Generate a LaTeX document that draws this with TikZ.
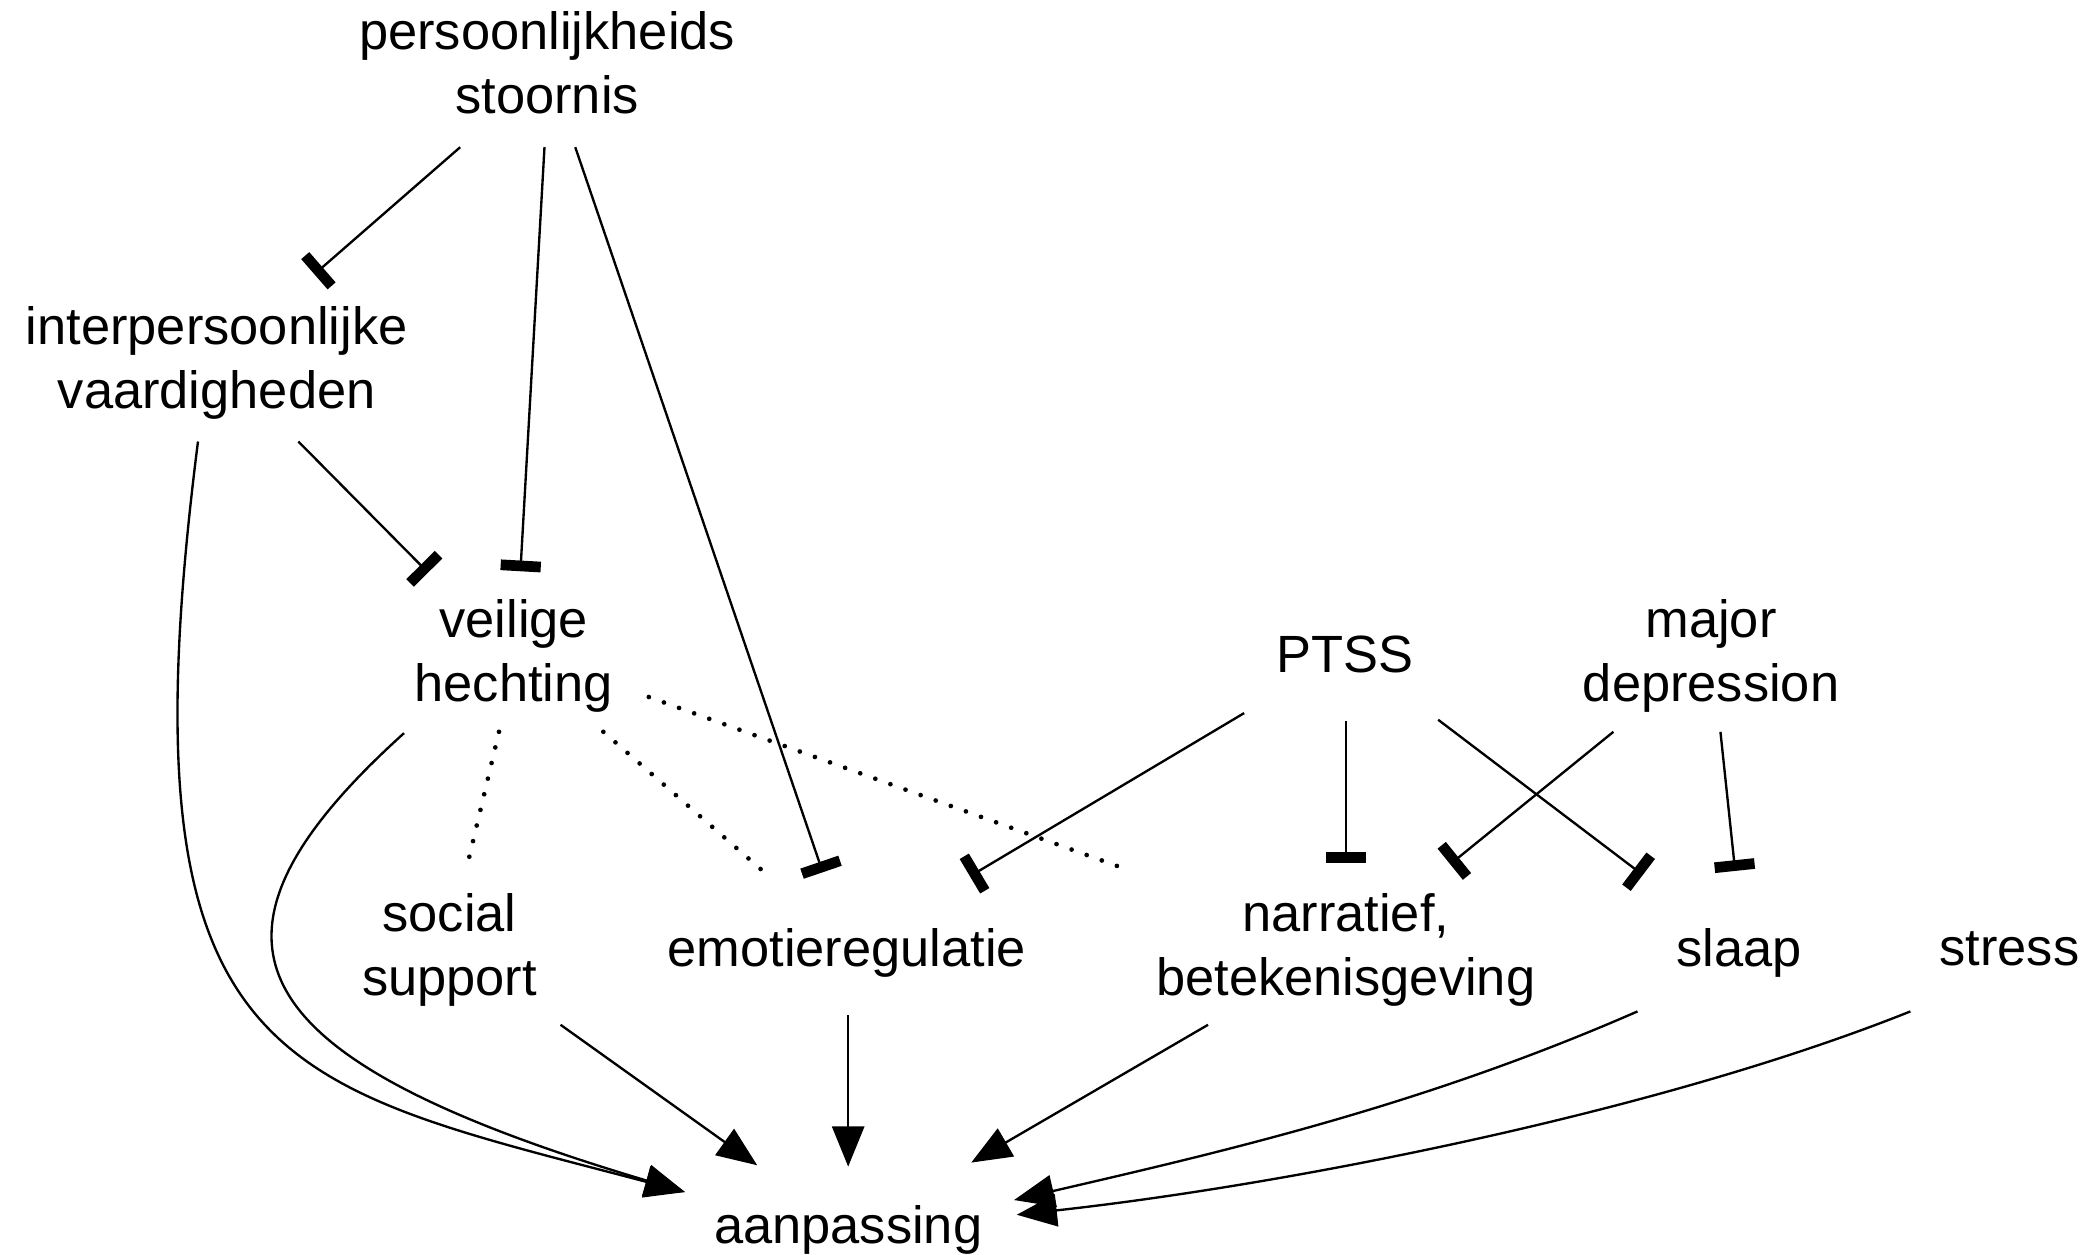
\documentclass[tikz,border=0pt]{standalone}
\usepackage{fontspec}
\setmainfont{Liberation Sans}
\usetikzlibrary{arrows.meta}
\begin{document}
\begin{tikzpicture}[x=0.02cm,y=-0.02cm,
  lbl/.style={font=\fontsize{22.3}{27.3}\selectfont, align=center, inner sep=0pt},
  conn/.style={line width=1pt},
  inh/.style={conn,-{Bar[width=0.6cm,line width=0.16cm]}},
  act/.style={conn,-{Triangle[length=0.6cm,width=0.48cm]}},
  assoc/.style={line width=2pt, line cap=round, dash pattern=on 0pt off 0.24cm}]
\useasboundingbox (0,0) rectangle (1560,938);
% nodes
\node[lbl] (pers)    at (409,47)   {persoonlijkheids\\stoornis};
\node[lbl] (interp)  at (162,271)  {interpersoonlijke\\vaardigheden};
\node[lbl] (veilig)  at (384,490)  {veilige\\hechting};
\node[lbl] (ptss)    at (1005,489) {PTSS};
\node[lbl] (major)   at (1279,490) {major\\depression};
\node[lbl] (social)  at (336,710)  {social\\support};
\node[lbl] (emotie)  at (633,712)  {emotieregulatie};
\node[lbl] (narr)    at (1006,710) {narratief,\\betekenisgeving};
\node[lbl] (slaap)   at (1300,712) {slaap};
\node[lbl] (stress)  at (1502,709) {stress};
\node[lbl] (aanp)    at (634,919)  {aanpassing};
% inhibitory edges
\draw[inh] ([shift={(-65,63)}]pers.center) -- ([shift={(73,-66)}]interp.center);
\draw[inh] ([shift={(-2,63)}]pers.center) -- ([shift={(5,-63)}]veilig.center);
\draw[inh] ([shift={(21,63)}]pers.center) -- ([shift={(-18,-60)}]emotie.center);
\draw[inh] ([shift={(61,59)}]interp.center) -- ([shift={(-64,-62)}]veilig.center);
\draw[inh] ([shift={(-75,44)}]ptss.center) -- ([shift={(92,-57)}]emotie.center);
\draw[inh] ([shift={(1,50)}]ptss.center) -- ([shift={(0,-65)}]narr.center);
\draw[inh] ([shift={(70,49)}]ptss.center) -- ([shift={(-72,-58)}]slaap.center);
\draw[inh] ([shift={(-73,57)}]major.center) -- ([shift={(78,-64)}]narr.center);
\draw[inh] ([shift={(7,57)}]major.center) -- ([shift={(-3,-61)}]slaap.center);
% associations
\draw[assoc] ([shift={(-11,57)}]veilig.center) -- ([shift={(13,-62)}]social.center);
\draw[assoc] ([shift={(67,57)}]veilig.center) -- ([shift={(-64,-62)}]emotie.center);
\draw[assoc] ([shift={(101,31)}]veilig.center) -- ([shift={(-169,-62)}]narr.center);
% arrows to aanpassing
\draw[act] ([shift={(-14,59)}]interp.center) .. controls (88,800) and (205,810) .. ([shift={(-122,-28)}]aanp.center);
\draw[act] ([shift={(-82,58)}]veilig.center) .. controls (128,705) and (180,792) .. ([shift={(-122,-28)}]aanp.center);
\draw[act] ([shift={(83,56)}]social.center) -- ([shift={(-68,-48)}]aanp.center);
\draw[act] ([shift={(1,47)}]emotie.center) -- ([shift={(0,-47)}]aanp.center);
\draw[act] ([shift={(-103,56)}]narr.center) -- ([shift={(92,-50)}]aanp.center);
\draw[act] ([shift={(-76,44)}]slaap.center) .. controls (1064,826) and (918,860) .. ([shift={(124,-22)}]aanp.center);
\draw[act] ([shift={(-74,47)}]stress.center) .. controls (1238,832) and (960,886) .. ([shift={(126,-11)}]aanp.center);
\end{tikzpicture}
\end{document}
